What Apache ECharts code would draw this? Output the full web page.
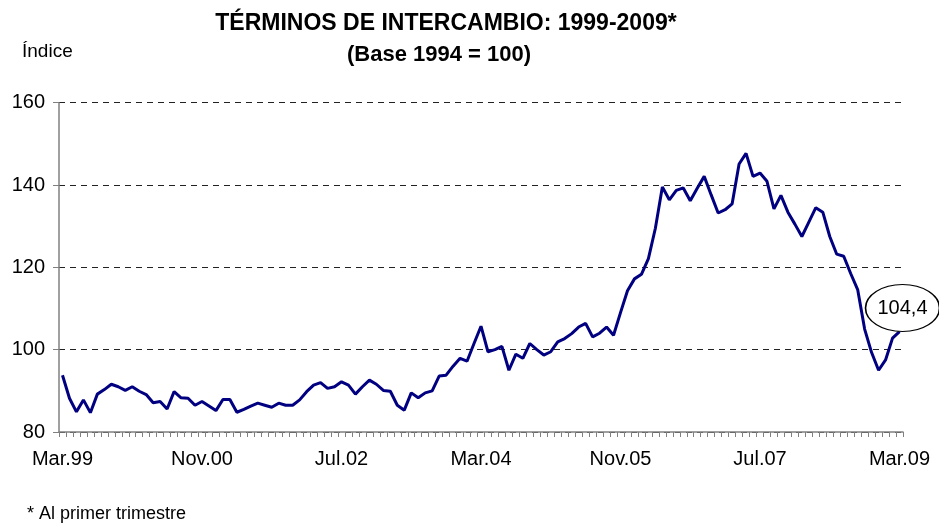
<!DOCTYPE html>
<html>
<head>
<meta charset="utf-8">
<script src="https://cdn.jsdelivr.net/npm/echarts@6/dist/echarts.min.js"></script>
<style>html,body{margin:0;padding:0;background:#fff}#c{width:939px;height:526px}</style>
</head>
<body>
<div id="c"></div>
<script>
// Spanish month abbreviations for category labels
var monthNames = ['Ene','Feb','Mar','Abr','May','Jun','Jul','Ago','Sep','Oct','Nov','Dic'];
var startYear = 1999, startMonth = 2, nMonths = 121; // Mar.99 .. Mar.09
var categories = [];
for (var k = 0; k < nMonths; k++) {
  var m = (startMonth + k) % 12;
  var y = startYear + Math.floor((startMonth + k) / 12);
  categories.push(monthNames[m] + '.' + String(y).slice(2));
}
// Términos de intercambio, índice mensual (Base 1994 = 100)
var values = [
  93.8, 88.2, 84.9, 87.8, 84.7, 89.2, 90.3, 91.6, 91.0, 90.1,
  91.0, 89.9, 89.1, 87.1, 87.4, 85.6, 89.8, 88.3, 88.2, 86.5,
  87.4, 86.3, 85.2, 87.9, 87.9, 84.8, 85.5, 86.3, 87.0, 86.5,
  86.0, 87.0, 86.5, 86.5, 87.8, 89.8, 91.4, 92.0, 90.6, 91.0,
  92.2, 91.4, 89.2, 91.0, 92.6, 91.6, 90.1, 89.9, 86.5, 85.3,
  89.5, 88.3, 89.5, 90.0, 93.6, 93.8, 96.0, 97.9, 97.2, 101.5,
  105.7, 99.5, 100.0, 100.8, 95.0, 98.9, 97.9, 101.5, 100.0, 98.7,
  99.5, 101.9, 102.7, 103.9, 105.5, 106.4, 103.1, 104.0, 105.5, 103.5,
  109.0, 114.3, 117.2, 118.3, 122.1, 129.5, 139.5, 136.4, 138.7, 139.3,
  136.2, 139.2, 142.1, 137.6, 133.2, 134.0, 135.4, 145.1, 147.7, 142.1,
  142.9, 140.9, 134.2, 137.5, 133.4, 130.5, 127.5, 131.0, 134.5, 133.4,
  127.5, 123.2, 122.7, 118.5, 114.6, 105.0, 99.3, 95.0, 97.5, 102.8,
  104.4
];
var yTicks = { min: 80, max: 160, interval: 20 };
var lastLabel = '104,4';

var font = '"Liberation Sans", Arial, sans-serif';
var chart = echarts.init(document.getElementById('c'), null, { renderer: 'canvas' });
chart.setOption({
  animation: false,
  backgroundColor: '#fff',
  grid: { left: 59, right: 36, top: 102.7, bottom: 94, containLabel: false },
  xAxis: {
    type: 'category',
    data: categories,
    boundaryGap: true,
    axisLine: { lineStyle: { color: '#808080', width: 1.5 } },
    axisTick: { show: true, interval: 0, length: 5, inside: false, lineStyle: { color: '#808080', width: 1 } },
    axisLabel: { interval: 19, margin: 17, fontSize: 20, fontFamily: font, color: '#000', showMaxLabel: true, showMinLabel: true, hideOverlap: false },
    splitLine: { show: false }
  },
  yAxis: {
    type: 'value',
    min: yTicks.min, max: yTicks.max, interval: yTicks.interval,
    axisLine: { show: true, lineStyle: { color: '#808080', width: 1.5 } },
    axisTick: { show: true, length: 6, lineStyle: { color: '#808080', width: 1 } },
    axisLabel: { margin: 14, fontSize: 20, fontFamily: font, color: '#000' },
    splitLine: { show: true, lineStyle: { color: '#222', width: 1, type: [6, 5] } }
  },
  series: [{
    type: 'line',
    data: values,
    symbol: 'none',
    lineStyle: { color: '#000080', width: 3 },
    itemStyle: { color: '#000080' },
    markPoint: {
      symbol: 'circle',
      symbolSize: [74, 47],
      symbolOffset: [3, -23.5],
      silent: true,
      itemStyle: { color: '#fff', borderColor: '#000', borderWidth: 1.3 },
      label: { show: true, position: 'inside', formatter: lastLabel, fontSize: 20, fontFamily: font, color: '#000' },
      data: [{ coord: [nMonths - 1, values[nMonths - 1]] }]
    }
  }],
  graphic: [
    { type: 'text', style: { x: 446, y: 23.5, text: 'TÉRMINOS DE INTERCAMBIO: 1999-2009*', font: 'bold 23px ' + font, fill: '#000', align: 'center', verticalAlign: 'middle' } },
    { type: 'text', style: { x: 439, y: 55, text: '(Base 1994 = 100)', font: 'bold 22px ' + font, fill: '#000', align: 'center', verticalAlign: 'middle' } },
    { type: 'text', style: { x: 22, y: 52, text: 'Índice', font: '19px ' + font, fill: '#000', align: 'left', verticalAlign: 'middle' } },
    { type: 'text', style: { x: 27, y: 514.5, text: '* Al primer trimestre', font: '18px ' + font, fill: '#000', align: 'left', verticalAlign: 'middle' } }
  ]
});
</script>
</body>
</html>
